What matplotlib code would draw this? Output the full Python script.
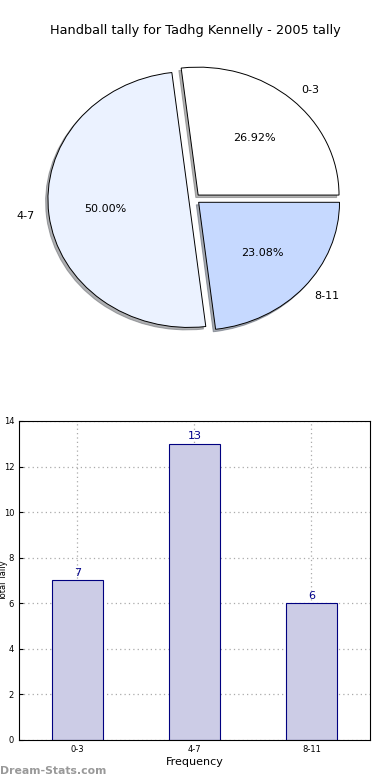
import matplotlib
matplotlib.use("Agg")
import matplotlib.pyplot as plt

# data
categories = ["0-3", "4-7", "8-11"]
counts = [7, 13, 6]
pie_colors = ["#FFFFFF", "#EBF2FF", "#C6D9FF"]

fig = plt.figure(figsize=(3.9, 7.8), dpi=100)
fig.text(0.5, 0.9615, "Handball tally for Tadhg Kennelly - 2005 tally",
         ha="center", va="center", fontsize=9.3)

# --- pie ---
ax1 = fig.add_axes([0.047, 0.540, 0.903, 0.410])
wedges, texts, autotexts = ax1.pie(
    counts, labels=categories, colors=pie_colors, autopct="%.2f%%",
    explode=[0.04, 0.04, 0.04],
    shadow=dict(ox=-0.012, oy=-0.014, shade=0.6), startangle=0,
    wedgeprops=dict(edgecolor="black", linewidth=0.7),
    textprops=dict(fontsize=8))
ax1.set_aspect("auto")
ax1.set_xlim(-1.25, 1.25)
ax1.set_ylim(-1.25, 1.25)

# --- bars ---
ax2 = fig.add_axes([0.0487, 0.0513, 0.9, 0.409])
x = range(len(categories))
bars = ax2.bar(x, counts, width=0.44, color="#CCCCE6", edgecolor="#000080",
               linewidth=0.8, zorder=2)
for xi, v in zip(x, counts):
    ax2.text(xi, v + 0.1, str(v), ha="center", va="bottom", fontsize=8,
             color="#00008B")
ax2.set_xlim(-0.5, 2.5)
ax2.set_ylim(0, 14)
ax2.set_yticks(range(0, 15, 2))
ax2.set_xticks(list(x))
ax2.set_xticklabels(categories)
ax2.tick_params(labelsize=6, direction="in", length=3)
ax2.grid(True, linestyle=(0, (1, 2.5)), color="#AAAAAA", linewidth=0.9, zorder=0)
ax2.set_axisbelow(True)
ax2.set_xlabel("Frequency", fontsize=8, labelpad=2)
ax2.set_ylabel("Total Tally", fontsize=6)
ax2.yaxis.set_label_coords(-0.032, 0.5)

fig.text(0.0, 0.005, "Dream-Stats.com", fontsize=7.8, color="#999999",
         fontweight="semibold", ha="left", va="bottom")

fig.savefig("out.png", dpi=100)
